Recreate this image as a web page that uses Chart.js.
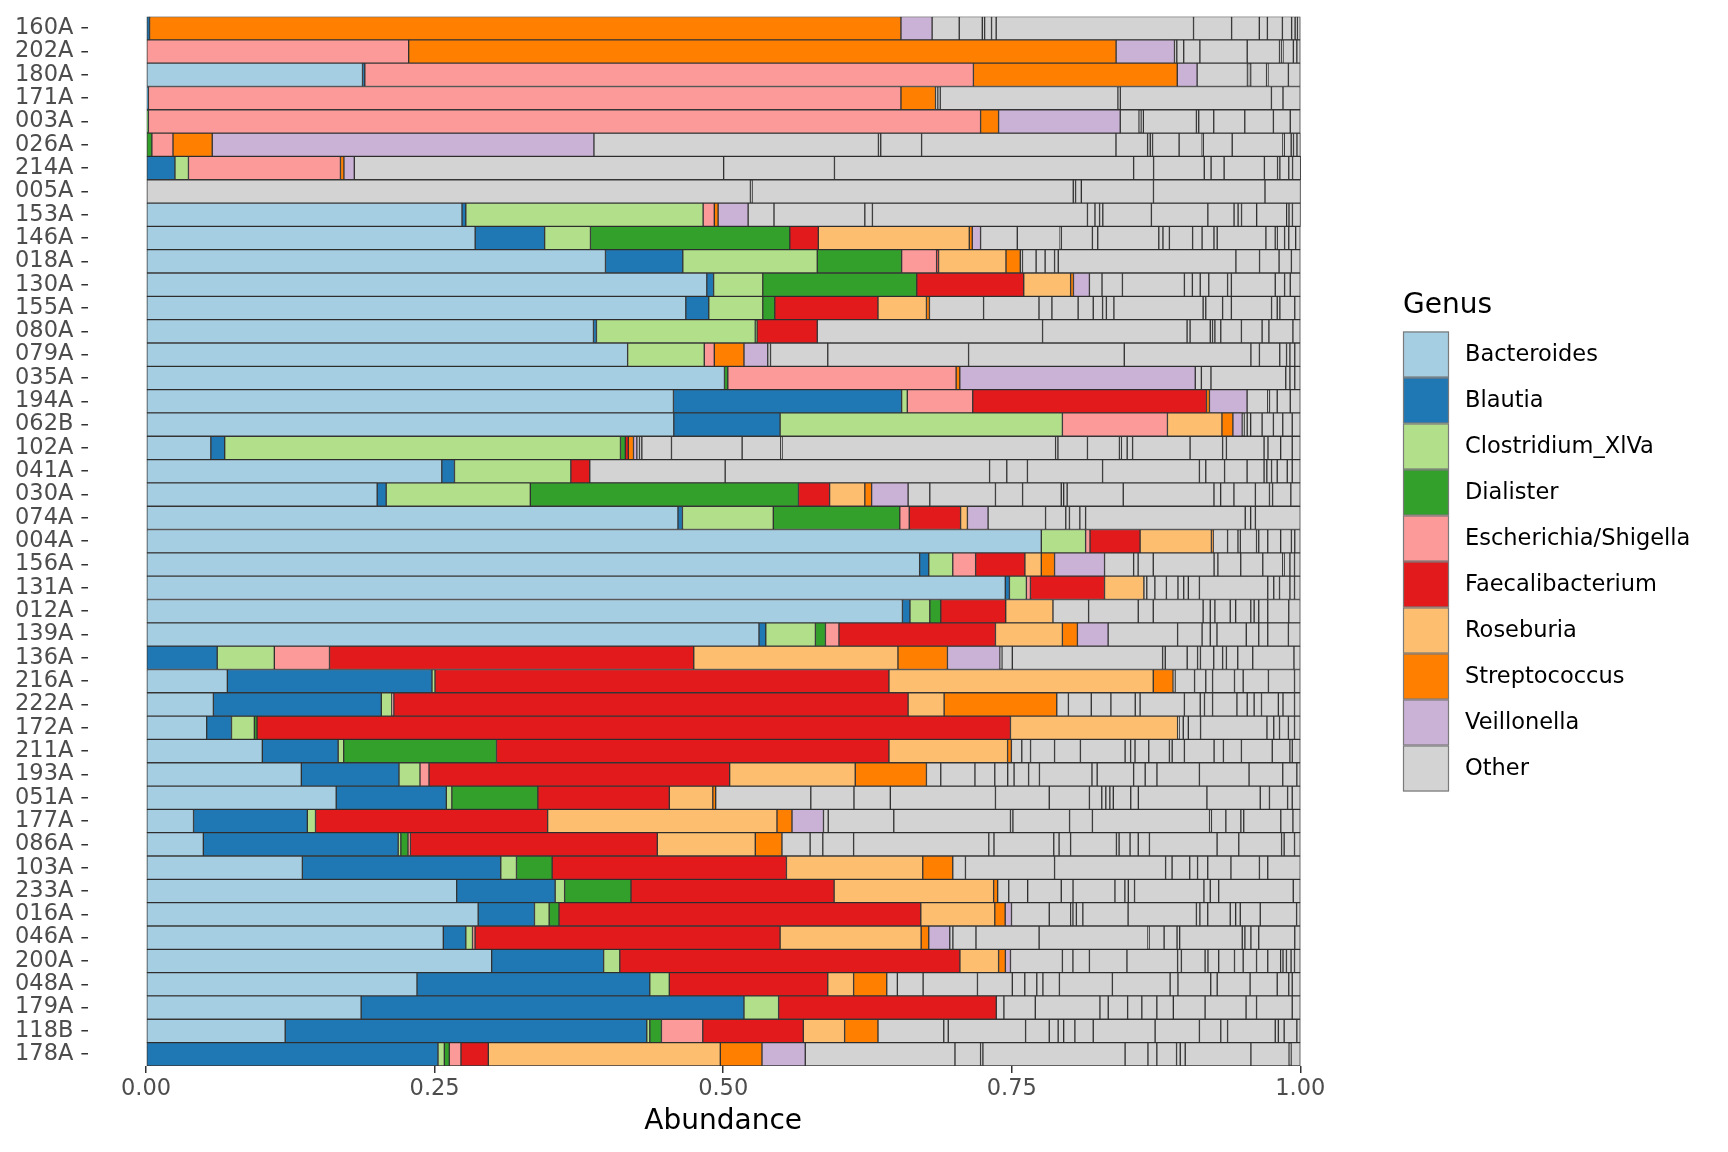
<!DOCTYPE html>
<html>
<head>
<meta charset="utf-8">
<script src="https://cdn.jsdelivr.net/npm/chart.js@4.4.1/dist/chart.umd.min.js"></script>
<style>
  html, body { margin: 0; padding: 0; background: #ffffff; }
  #wrap { width: 1728px; height: 1152px; }
</style>
</head>
<body>
<div id="wrap"><canvas id="abundanceChart" width="1728" height="1152"></canvas></div>
<script>
// samples, top to bottom
const samples = ['160A', '202A', '180A', '171A', '003A', '026A', '214A', '005A', '153A', '146A',
    '018A', '130A', '155A', '080A', '079A', '035A', '194A', '062B', '102A', '041A',
    '030A', '074A', '004A', '156A', '131A', '012A', '139A', '136A', '216A', '222A',
    '172A', '211A', '193A', '051A', '177A', '086A', '103A', '233A', '016A', '046A',
    '200A', '048A', '179A', '118B', '178A'];

const genera = ['Bacteroides', 'Blautia', 'Clostridium_XlVa', 'Dialister', 'Escherichia/Shigella',
    'Faecalibacterium', 'Roseburia', 'Streptococcus', 'Veillonella'];

const bacteroides = [0, 0, 0.1875, 0, 0, 0, 0, 0, 0.2737, 0.2851, 0.398, 0.4858, 0.4676, 0.3876, 0.4172,
    0.5011, 0.4569, 0.4572, 0.0561, 0.2562, 0.2002, 0.4608, 0.7756, 0.6702, 0.7444, 0.6553, 0.531, 0,
    0.0704, 0.0583, 0.0525, 0.1007, 0.1345, 0.1647, 0.0411, 0.0496, 0.1354, 0.2691, 0.2877, 0.2575,
    0.2994, 0.2347, 0.1863, 0.1205, 0];
const blautia = [0.003, 0, 0.002, 0.002, 0, 0, 0.025, 0, 0.0033, 0.0602, 0.067, 0.0059, 0.0199, 0.0026, 0,
    0, 0.1977, 0.0921, 0.012, 0.011, 0.0078, 0.0039, 0, 0.0079, 0.0036, 0.0065, 0.0059, 0.0616, 0.1773,
    0.1455, 0.0215, 0.0657, 0.0846, 0.0954, 0.0986, 0.1688, 0.1719, 0.0853, 0.0488, 0.0195, 0.097,
    0.2017, 0.3317, 0.3133, 0.2529];
const clostridium = [0, 0, 0, 0, 0, 0, 0.0117, 0, 0.2056, 0.0397, 0.1165, 0.0426, 0.0468, 0.1376, 0.0664,
    0, 0.0049, 0.2446, 0.3429, 0.1008, 0.1249, 0.0787, 0.0384, 0.0208, 0.0147, 0.0172, 0.043, 0.0495,
    0.0026, 0.0091, 0.0198, 0.0048, 0.0182, 0.0048, 0.0071, 0.0023, 0.0136, 0.0082, 0.0127, 0.0058,
    0.014, 0.0169, 0.03, 0.0026, 0.0055];
const dialister = [0, 0, 0, 0, 0.002, 0.005, 0, 0, 0, 0.1727, 0.0731, 0.1334, 0.0104, 0.0015, 0, 0.0029,
    0, 0, 0.0042, 0, 0.2323, 0.1096, 0, 0, 0, 0.0095, 0.0087, 0, 0, 0, 0.0023, 0.1324, 0, 0.0745, 0,
    0.0062, 0.0309, 0.0575, 0.0085, 0, 0, 0, 0, 0.0101, 0.0043];
const escherichia = [0, 0.2275, 0.5273, 0.652, 0.721, 0.0183, 0.1317, 0, 0.0097, 0, 0.0303, 0, 0, 0,
    0.0087, 0.1978, 0.0567, 0.091, 0, 0, 0, 0.0082, 0.0038, 0.0198, 0.0035, 0, 0.0117, 0.0478, 0,
    0.0017, 0, 0, 0.0078, 0, 0, 0.0021, 0, 0, 0, 0.0022, 0, 0, 0, 0.0358, 0.0101];
const faecalibacterium = [0, 0, 0, 0, 0, 0, 0, 0, 0, 0.0247, 0.0017, 0.0927, 0.0894, 0.0522, 0, 0,
    0.2025, 0, 0.0026, 0.0164, 0.027, 0.0445, 0.0434, 0.0427, 0.0642, 0.0563, 0.1356, 0.3156, 0.3933,
    0.4456, 0.6528, 0.34, 0.2605, 0.1139, 0.2011, 0.2139, 0.203, 0.176, 0.3135, 0.2643, 0.2947,
    0.1373, 0.1886, 0.0871, 0.0237];
const roseburia = [0, 0, 0, 0, 0, 0, 0, 0, 0, 0.1308, 0.0584, 0.0406, 0.042, 0, 0, 0, 0, 0.0472, 0, 0,
    0.0305, 0.0059, 0.0618, 0.0142, 0.0341, 0.0409, 0.058, 0.1769, 0.229, 0.0312, 0.1448, 0.1028,
    0.1088, 0.0377, 0.1987, 0.0849, 0.1181, 0.1382, 0.0641, 0.1222, 0.0335, 0.0224, 0, 0.0358, 0.201];
const streptococcus = [0.651, 0.6129, 0.1766, 0.03, 0.0156, 0.034, 0.003, 0, 0.0033, 0.0026, 0.0124,
    0.0025, 0.0026, 0, 0.0257, 0.0032, 0.0026, 0.0095, 0.0045, 0, 0.0059, 0, 0.0015, 0.0115, 0, 0,
    0.013, 0.0429, 0.0172, 0.0976, 0, 0.0033, 0.0617, 0.0025, 0.013, 0.0231, 0.026, 0.0035, 0.009,
    0.0066, 0.0059, 0.0287, 0, 0.0289, 0.0361];
const veillonella = [0.027, 0.0506, 0.0172, 0, 0.1054, 0.3307, 0.009, 0, 0.026, 0.0072, 0, 0.0138, 0, 0,
    0.0206, 0.204, 0.0326, 0.0081, 0.0029, 0, 0.0316, 0.0179, 0, 0.0433, 0, 0, 0.0266, 0.0455, 0, 0, 0,
    0, 0, 0, 0.0273, 0, 0, 0, 0.0055, 0.0182, 0.0044, 0, 0, 0, 0.0375];

// each "Other" taxon of a sample, in drawing order
const otherSegments = [
    [0.0235, 0.020, 0.002, 0.006, 0.004, 0.171, 0.033, 0.024, 0.007, 0.013, 0.008, 0.003, 0.002, 0.0025],
    [0.002, 0.006, 0.014, 0.041, 0.028, 0.002, 0.001, 0.009, 0.003, 0.003],
    [0.0436, 0.0013, 0.0015, 0.0138, 0.0012, 0.0177, 0.0103],
    [0.002, 0.002, 0.154, 0.002, 0.131, 0.010, 0.015],
    [0.0163, 0.0017, 0.002, 0.046, 0.002, 0.013, 0.0269, 0.0248, 0.0146, 0.0087],
    [0.2465, 0.002, 0.0354, 0.1684, 0.0274, 0.0023, 0.002, 0.023, 0.020, 0.001, 0.025, 0.0439, 0.0012, 0.006, 0.002, 0.003, 0.003],
    [0.320, 0.096, 0.2592, 0.0173, 0.0439, 0.0059, 0.0113, 0.0349, 0.0114, 0.002, 0.0077, 0.0033, 0.007],
    [0.5236, 0.0014, 0.2783, 0.002, 0.005, 0.0625, 0.0966, 0.0308],
    [0.0224, 0.0787, 0.0066, 0.1863, 0.0065, 0.004, 0.0028, 0.0421, 0.0489, 0.0227, 0.0035, 0.003, 0.0131, 0.026, 0.002, 0.003, 0.007],
    [0.0318, 0.0371, 0.0011, 0.0269, 0.0046, 0.0529, 0.0036, 0.0056, 0.0201, 0.0082, 0.0103, 0.0028, 0.0422, 0.0081, 0.0017, 0.0064, 0.0036, 0.006, 0.004],
    [0.0019, 0.0118, 0.0078, 0.0082, 0.0032, 0.1539, 0.0205, 0.0169, 0.0107, 0.0077],
    [0.0109, 0.0177, 0.0537, 0.0069, 0.0068, 0.0074, 0.0163, 0.0033, 0.038, 0.0081, 0.0049, 0.0087],
    [0.0469, 0.048, 0.0112, 0.0227, 0.0131, 0.0081, 0.0033, 0.0065, 0.0773, 0.0023, 0.0146, 0.0076, 0.0348, 0.0049, 0.0023, 0.0129, 0.0048],
    [0.1952, 0.1252, 0.0026, 0.0175, 0.002, 0.002, 0.0051, 0.0179, 0.0179, 0.0059, 0.0208, 0.0064],
    [0.0024, 0.0496, 0.122, 0.1349, 0.1097, 0.0074, 0.0176, 0.0059, 0.0029, 0.0042, 0.0048],
    [0.0053, 0.0083, 0.0648, 0.0036, 0.0042, 0.0048],
    [0.0179, 0.0015, 0.0067, 0.0113, 0.0087],
    [0.0016, 0.0027, 0.003, 0.0099, 0.0098, 0.0081, 0.0082, 0.007],
    [0.0023, 0.002, 0.0257, 0.0612, 0.0335, 0.0011, 0.237, 0.002, 0.0256, 0.0277, 0.0017, 0.005, 0.0047, 0.0498, 0.0282, 0.0033, 0.0326, 0.0034, 0.011, 0.01, 0.007],
    [0.1173, 0.2291, 0.0149, 0.0179, 0.0651, 0.0839, 0.0055, 0.0163, 0.0195, 0.0147, 0.0024, 0.0041, 0.0049, 0.0087, 0.0043, 0.007],
    [0.0188, 0.0569, 0.0235, 0.0335, 0.0021, 0.003, 0.0486, 0.0786, 0.0058, 0.0115, 0.0186, 0.0122, 0.0027, 0.0158, 0.0082],
    [0.0498, 0.0175, 0.0032, 0.009, 0.005, 0.1383, 0.0047, 0.0041, 0.0389],
    [0.0125, 0.009, 0.002, 0.0141, 0.0019, 0.0078, 0.0112, 0.0093, 0.0029, 0.0048],
    [0.0252, 0.0039, 0.0131, 0.0527, 0.0033, 0.0198, 0.0191, 0.0173, 0.0012, 0.005, 0.004, 0.005],
    [0.0025, 0.007, 0.01, 0.01, 0.005, 0.004, 0.0096, 0.0592, 0.0052, 0.005, 0.009, 0.004, 0.005],
    [0.0309, 0.043, 0.013, 0.0432, 0.0062, 0.004, 0.0133, 0.0047, 0.0131, 0.0029, 0.004, 0.0078, 0.0182, 0.01],
    [0.0602, 0.0212, 0.0071, 0.0058, 0.0254, 0.0108, 0.0078, 0.0179, 0.0103],
    [0.0017, 0.009, 0.1302, 0.0023, 0.019, 0.009, 0.0025, 0.0115, 0.0077, 0.0033, 0.0098, 0.013, 0.0357, 0.0055],
    [0.0017, 0.0169, 0.0097, 0.0059, 0.019, 0.0075, 0.0219, 0.0226, 0.005],
    [0.0101, 0.0198, 0.017, 0.0211, 0.0042, 0.0384, 0.0137, 0.0037, 0.007, 0.0211, 0.0089, 0.006, 0.0064, 0.0146, 0.004, 0.01, 0.005],
    [0.0013, 0.0036, 0.0044, 0.0106, 0.0575, 0.0059, 0.005, 0.0077, 0.0053, 0.005],
    [0.009, 0.0076, 0.0208, 0.0224, 0.0387, 0.0048, 0.0038, 0.0119, 0.0179, 0.0024, 0.0106, 0.0257, 0.0081, 0.0156, 0.0267, 0.0153, 0.002, 0.007],
    [0.0124, 0.0296, 0.0172, 0.0112, 0.0055, 0.0126, 0.0094, 0.0455, 0.0045, 0.0316, 0.01, 0.0102, 0.0368, 0.043, 0.0292, 0.0122, 0.003],
    [0.0824, 0.0374, 0.0315, 0.0911, 0.0466, 0.0348, 0.0107, 0.0035, 0.0035, 0.003, 0.0151, 0.0066, 0.0594, 0.0462, 0.008, 0.0157, 0.004, 0.007],
    [0.0041, 0.0568, 0.1011, 0.0021, 0.0491, 0.0198, 0.1015, 0.0016, 0.0125, 0.013, 0.0025, 0.0321, 0.0105, 0.0064],
    [0.0244, 0.011, 0.0267, 0.1171, 0.0045, 0.0518, 0.0046, 0.01, 0.0397, 0.0023, 0.0095, 0.0071, 0.0097, 0.0586, 0.0188, 0.0371, 0.0022, 0.009, 0.005],
    [0.011, 0.0772, 0.0962, 0.0056, 0.0153, 0.0068, 0.0088, 0.0201, 0.0247, 0.0072, 0.0282],
    [0.0096, 0.0164, 0.0291, 0.0102, 0.0363, 0.0086, 0.003, 0.0054, 0.0601, 0.0055, 0.0073, 0.0646, 0.0061],
    [0.0327, 0.0186, 0.0019, 0.003, 0.0056, 0.0392, 0.0592, 0.003, 0.0068, 0.0195, 0.0047, 0.004, 0.0173, 0.0315, 0.0032],
    [0.0027, 0.02, 0.0547, 0.0943, 0.001, 0.013, 0.0112, 0.0023, 0.0542, 0.0023, 0.0052, 0.0068, 0.0312, 0.0048],
    [0.045, 0.0091, 0.0143, 0.0325, 0.0439, 0.0033, 0.0205, 0.0025, 0.0093, 0.0137, 0.0075, 0.0116, 0.0097, 0.0112, 0.002, 0.003, 0.004, 0.003, 0.005],
    [0.0092, 0.0223, 0.0471, 0.0302, 0.0108, 0.0104, 0.0053, 0.0143, 0.0459, 0.05, 0.0068, 0.0284, 0.0056, 0.0285, 0.0235, 0.01, 0.003, 0.007],
    [0.0066, 0.0272, 0.056, 0.0072, 0.0168, 0.0123, 0.013, 0.0143, 0.0275, 0.0355, 0.0091, 0.0309, 0.007],
    [0.057, 0.0039, 0.067, 0.0205, 0.0077, 0.0048, 0.0097, 0.0159, 0.0536, 0.0384, 0.0185, 0.0059, 0.0413, 0.0027, 0.005, 0.011, 0.003],
    [0.1297, 0.0222, 0.002, 0.1232, 0.0198, 0.0077, 0.0171, 0.0032, 0.0043, 0.0569, 0.0331, 0.0017, 0.008]
];

const xTicks = [0, 0.25, 0.5, 0.75, 1];

const genusColors = ['#A6CEE3', '#1F78B4', '#B2DF8A', '#33A02C', '#FB9A99',
    '#E31A1C', '#FDBF6F', '#FF7F00', '#CAB2D6'];
const otherColor = '#D3D3D3';
const outline = 'rgba(35, 35, 35, 0.9)';

Chart.defaults.font.family = "'DejaVu Sans', sans-serif";

const genusData = [bacteroides, blautia, clostridium, dialister, escherichia,
    faecalibacterium, roseburia, streptococcus, veillonella];

const barStyle = {
    borderColor: outline,
    borderWidth: 1,
    borderSkipped: false,
    barPercentage: 1,
    categoryPercentage: 1,
    stack: 'abundance'
};

const datasets = genera.map((name, i) => ({
    label: name,
    data: genusData[i].map(v => v > 0 ? v : null),
    backgroundColor: genusColors[i],
    ...barStyle
}));

const otherCount = Math.max(...otherSegments.map(row => row.length));
for (let k = 0; k < otherCount; k++) {
    datasets.push({
        label: 'Other',
        data: otherSegments.map(row => row[k] !== undefined ? row[k] : null),
        backgroundColor: otherColor,
        ...barStyle
    });
}

// ggplot style legend on the right
const genusLegend = {
    id: 'genusLegend',
    afterDraw(chart) {
        const ctx = chart.ctx;
        const left = 1403, top = 331.5, key = 46;
        ctx.save();
        ctx.fillStyle = '#000000';
        ctx.font = "28px 'DejaVu Sans'";
        ctx.textAlign = 'left';
        ctx.textBaseline = 'middle';
        ctx.fillText('Genus', left, 306);

        const names = genera.concat(['Other']);
        const colors = genusColors.concat([otherColor]);
        ctx.font = "22.5px 'DejaVu Sans'";
        names.forEach((name, i) => {
            const y = top + i * key;
            ctx.fillStyle = colors[i];
            ctx.fillRect(left, y, key, key);
            ctx.strokeStyle = '#7a7a7a';
            ctx.lineWidth = 1.2;
            ctx.strokeRect(left + 0.5, y + 0.5, key - 1, key - 1);
            ctx.fillStyle = '#000000';
            ctx.fillText(name, 1465, y + key / 2 + 1);
        });
        ctx.restore();
    }
};

new Chart(document.getElementById('abundanceChart'), {
    type: 'bar',
    data: { labels: samples, datasets },
    options: {
        indexAxis: 'y',
        responsive: false,
        animation: false,
        devicePixelRatio: 1,
        layout: { padding: { left: 7, right: 370, top: 16.5, bottom: 10.5 } },
        plugins: {
            legend: { display: false },
            tooltip: { enabled: false }
        },
        scales: {
            x: {
                stacked: true,
                min: -0.05,
                max: 1.05,
                afterBuildTicks: scale => { scale.ticks = xTicks.map(v => ({ value: v })); },
                border: { display: false },
                grid: {
                    drawOnChartArea: false,
                    drawTicks: true,
                    tickLength: 7,
                    tickColor: '#333333',
                    lineWidth: 1.5
                },
                ticks: {
                    padding: 2.5,
                    color: '#4D4D4D',
                    font: { size: 22.5 },
                    callback: v => Number(v).toFixed(2)
                },
                title: {
                    display: true,
                    text: 'Abundance',
                    color: '#000000',
                    font: { size: 28 },
                    padding: { top: 0, bottom: 3 }
                }
            },
            y: {
                stacked: true,
                offset: true,
                // rows fill the panel; labels sit at row centres so no extra label room is needed
                afterFit: scale => { scale.paddingTop = 0; scale.paddingBottom = 0; },
                border: { display: false },
                grid: {
                    offset: false,
                    drawOnChartArea: false,
                    drawTicks: true,
                    tickLength: 7,
                    tickColor: '#333333',
                    lineWidth: 1.5
                },
                ticks: {
                    padding: 8,
                    color: '#4D4D4D',
                    font: { size: 22.5 },
                    autoSkip: false
                }
            }
        }
    },
    plugins: [genusLegend]
});
</script>
</body>
</html>
